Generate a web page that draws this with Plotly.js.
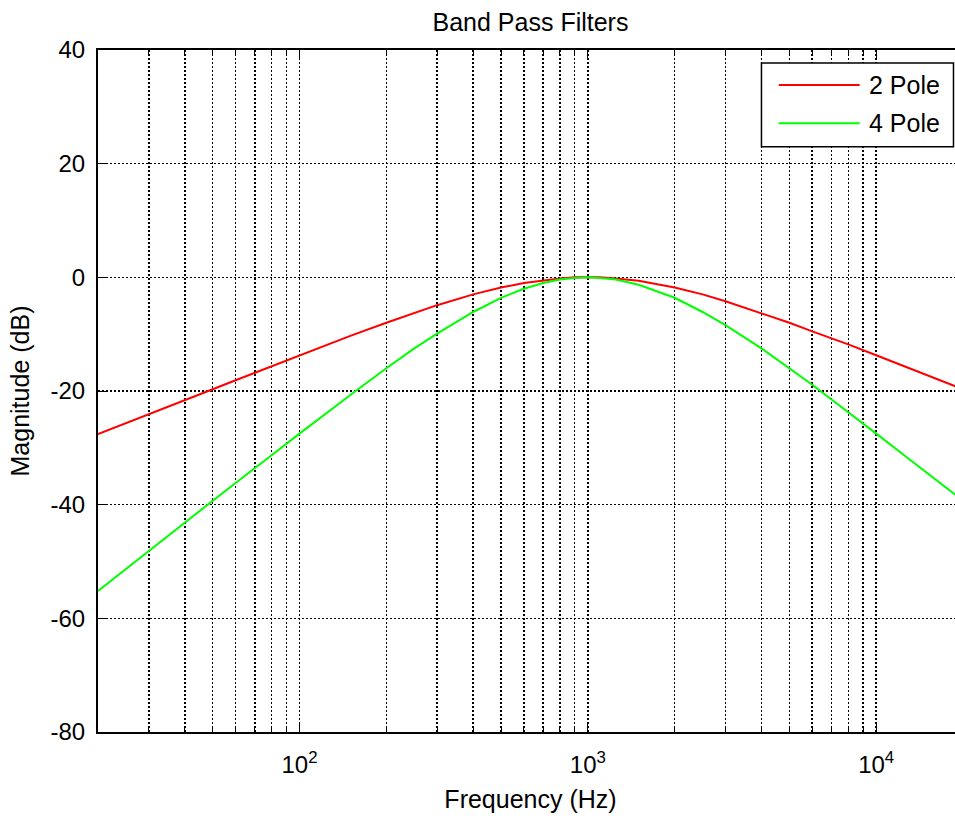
<!DOCTYPE html>
<html>
<head>
<meta charset="utf-8">
<script src="https://cdn.plot.ly/plotly-3.0.1.min.js"></script>
<style>
  html, body { margin: 0; padding: 0; overflow: hidden; background: #fff; }
  #chart { width: 1000px; height: 816px; }
</style>
</head>
<body>
<div id="chart"></div>
<script>
// Frequency (Hz)
const freq = [20, 25, 30, 40, 50, 60, 70, 80, 100, 125, 150, 200, 250, 300, 400, 500, 600, 700, 800, 900,
              1000, 1100, 1250, 1500, 2000, 2500, 3000, 4000, 5000, 6000, 7000, 8000, 10000, 12500, 15000, 20000];
// Magnitude (dB), 2 pole band pass
const mag2Pole = [-27.6, -25.7, -24.1, -21.6, -19.7, -18.1, -16.8, -15.6, -13.7, -11.8, -10.3, -8.0, -6.3, -4.9, -3.0, -1.8, -1.0, -0.5, -0.2, 0.0,
                  0.0, 0.0, -0.2, -0.6, -1.8, -3.0, -4.2, -6.3, -8.0, -9.5, -10.7, -11.8, -13.7, -15.6, -17.2, -19.7];
// Magnitude (dB), 4 pole band pass
const mag4Pole = [-55.2, -51.3, -48.2, -43.2, -39.3, -36.2, -33.5, -31.3, -27.5, -23.7, -20.7, -16.0, -12.5, -9.9, -6.1, -3.6, -2.0, -1.0, -0.4, -0.1,
                  0.0, -0.1, -0.4, -1.3, -3.6, -6.1, -8.4, -12.5, -16.0, -18.9, -21.5, -23.7, -27.5, -31.3, -34.4, -39.3];

const seriesNames = ["2 Pole", "4 Pole"];
const seriesColors = ["#ff0000", "#00ff00"];

const xMajorTicks = [100, 1000, 10000];
const xMajorText = ["10<sup>2</sup>", "10<sup>3</sup>", "10<sup>4</sup>"];
const xMinorTicks = [20, 30, 40, 50, 60, 70, 80, 90, 200, 300, 400, 500, 600, 700, 800, 900,
                     2000, 3000, 4000, 5000, 6000, 7000, 8000, 9000, 20000];
const yTicks = [-80, -60, -40, -20, 0, 20, 40];
const yTickText = ["-80", "-60", "-40", "-20", "0", "20", "40"];

const FONT = "Arial, 'Liberation Sans', Helvetica, sans-serif";
const gridDash = "2px,2px";

const traces = [mag2Pole, mag4Pole].map((ys, i) => ({
  x: freq, y: ys, type: "scatter", mode: "lines", name: seriesNames[i],
  line: { color: seriesColors[i], width: 2 }, showlegend: false
}));

// custom MATLAB-style legend box (paper coordinates)
const legX0 = 0.767, legX1 = 0.989, legY0 = 0.858, legY1 = 0.981;
const legRowY = [0.9487, 0.8925];
const shapes = [
  { type: "rect", xref: "paper", yref: "paper", x0: legX0, x1: legX1, y0: legY0, y1: legY1,
    fillcolor: "#ffffff", line: { color: "#000000", width: 1.5 }, layer: "above" }
];
const annotations = [];
seriesNames.forEach((n, i) => {
  shapes.push({ type: "line", xref: "paper", yref: "paper", x0: 0.787, x1: 0.8805, y0: legRowY[i], y1: legRowY[i],
                line: { color: seriesColors[i], width: 2 }, layer: "above" });
  annotations.push({ xref: "paper", yref: "paper", x: 0.889, y: legRowY[i], xanchor: "left", yanchor: "middle",
                     text: n, showarrow: false, font: { family: FONT, size: 25, color: "#000" } });
});

const layout = {
  width: 1000, height: 816,
  margin: { l: 98, r: 37, t: 50, b: 84 },
  paper_bgcolor: "#ffffff", plot_bgcolor: "#ffffff",
  font: { family: FONT, size: 24, color: "#000" },
  title: { text: "Band Pass Filters", x: 0.5, xref: "paper", xanchor: "center",
           y: 1 - 22 / 816, yref: "container", yanchor: "middle",
           font: { family: FONT, size: 25, color: "#000" } },
  xaxis: {
    type: "log", range: [Math.log10(20), Math.log10(20000)],
    tickmode: "array", tickvals: xMajorTicks, ticktext: xMajorText,
    ticks: "inside", ticklen: 8, tickwidth: 1, tickcolor: "#000",
    showgrid: true, gridcolor: "#000", gridwidth: 1.5, griddash: gridDash,
    minor: { tickmode: "array", tickvals: xMinorTicks, ticks: "inside", ticklen: 5, tickcolor: "#000",
             showgrid: true, gridcolor: "#000", gridwidth: 1.5, griddash: gridDash },
    showline: true, linecolor: "#000", linewidth: 2, mirror: "allticks",
    zeroline: false, automargin: false, ticklabelstandoff: 10,
    tickfont: { family: FONT, size: 24, color: "#000" },
    title: { text: "Frequency (Hz)", font: { family: FONT, size: 25, color: "#000" }, standoff: 14 }
  },
  yaxis: {
    range: [-80, 40], tickmode: "array", tickvals: yTicks, ticktext: yTickText,
    ticks: "inside", ticklen: 8, tickwidth: 1, tickcolor: "#000",
    showgrid: true, gridcolor: "#000", gridwidth: 1.5, griddash: gridDash,
    showline: true, linecolor: "#000", linewidth: 2, mirror: "allticks",
    zeroline: false, automargin: false, ticklabelstandoff: 6,
    tickfont: { family: FONT, size: 24, color: "#000" },
    title: { text: "Magnitude (dB)", font: { family: FONT, size: 25, color: "#000" }, standoff: 14 }
  },
  shapes: shapes,
  annotations: annotations,
  showlegend: false
};

Plotly.newPlot("chart", traces, layout, { displayModeBar: false, staticPlot: true });
</script>
</body>
</html>
